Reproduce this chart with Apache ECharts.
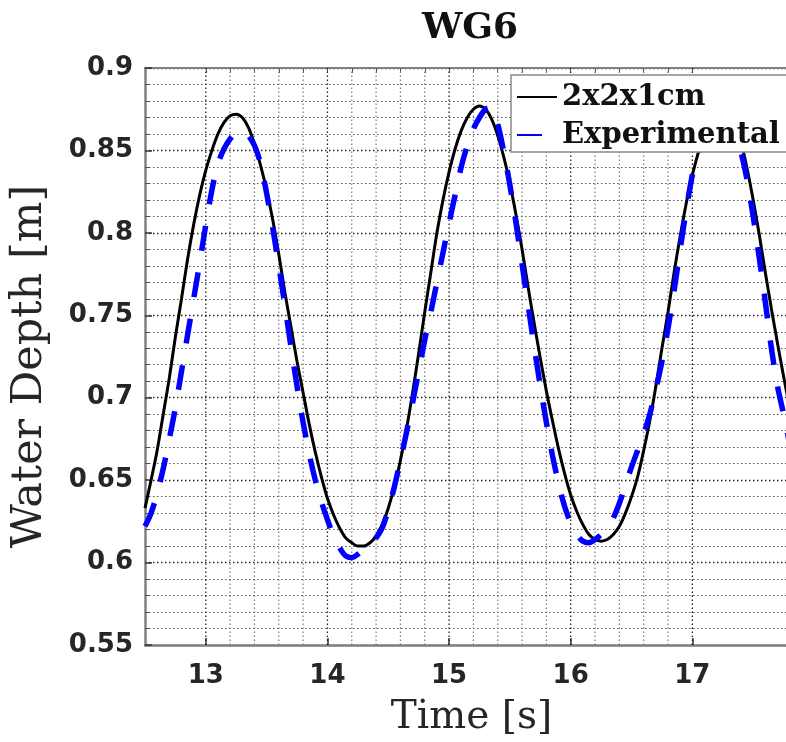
<!DOCTYPE html>
<html>
<head>
<meta charset="utf-8">
<script src="https://cdn.jsdelivr.net/npm/echarts@6/dist/echarts.min.js"></script>
<style>
  html, body { margin: 0; padding: 0; background: #ffffff; }
  #chart { width: 786px; height: 742px; }
</style>
</head>
<body>
<div id="chart"></div>
<script>
// Sample times [s]
const time = [
  12.50, 12.55, 12.60, 12.65, 12.70, 12.75, 12.80, 12.85, 12.90, 12.95,
  13.00, 13.05, 13.10, 13.15, 13.20, 13.25, 13.30, 13.35, 13.40, 13.45,
  13.50, 13.55, 13.60, 13.65, 13.70, 13.75, 13.80, 13.85, 13.90, 13.95,
  14.00, 14.05, 14.10, 14.15, 14.20, 14.25, 14.30, 14.35, 14.40, 14.45,
  14.50, 14.55, 14.60, 14.65, 14.70, 14.75, 14.80, 14.85, 14.90, 14.95,
  15.00, 15.05, 15.10, 15.15, 15.20, 15.25, 15.30, 15.35, 15.40, 15.45,
  15.50, 15.55, 15.60, 15.65, 15.70, 15.75, 15.80, 15.85, 15.90, 15.95,
  16.00, 16.05, 16.10, 16.15, 16.20, 16.25, 16.30, 16.35, 16.40, 16.45,
  16.50, 16.55, 16.60, 16.65, 16.70, 16.75, 16.80, 16.85, 16.90, 16.95,
  17.00, 17.05, 17.10, 17.15, 17.20, 17.25, 17.30, 17.35, 17.40, 17.45,
  17.50, 17.55, 17.60, 17.65, 17.70, 17.75, 17.80
];

// Simulated water depth, 2x2x1cm mesh [m]
const simDepth = [
  0.633, 0.650, 0.668, 0.690, 0.712, 0.737, 0.760, 0.784, 0.805, 0.823,
  0.838, 0.850, 0.860, 0.867, 0.871, 0.872, 0.870, 0.864, 0.854, 0.841,
  0.826, 0.808, 0.787, 0.764, 0.743, 0.722, 0.703, 0.684, 0.667, 0.652,
  0.639, 0.629, 0.621, 0.615, 0.612, 0.610, 0.610, 0.612, 0.616, 0.623,
  0.633, 0.646, 0.662, 0.681, 0.703, 0.727, 0.752, 0.776, 0.800, 0.820,
  0.837, 0.851, 0.862, 0.870, 0.875, 0.877, 0.875, 0.869, 0.859, 0.846,
  0.830, 0.811, 0.790, 0.767, 0.745, 0.724, 0.704, 0.686, 0.669, 0.654,
  0.641, 0.631, 0.623, 0.617, 0.614, 0.613, 0.614, 0.617, 0.622, 0.630,
  0.640, 0.652, 0.668, 0.686, 0.707, 0.730, 0.752, 0.776, 0.798, 0.818,
  0.835, 0.849, 0.861, 0.870, 0.876, 0.878, 0.875, 0.867, 0.855, 0.839,
  0.820, 0.799, 0.776, 0.754, 0.733, 0.713, 0.694
];

// Measured water depth [m]
const expDepth = [
  0.622, 0.630, 0.642, 0.657, 0.675, 0.694, 0.716, 0.738, 0.760, 0.782,
  0.805, 0.826, 0.842, 0.851, 0.857, 0.861, 0.862, 0.859, 0.853, 0.842,
  0.824, 0.803, 0.780, 0.756, 0.731, 0.707, 0.685, 0.666, 0.650, 0.637,
  0.626, 0.616, 0.609, 0.604, 0.603, 0.605, 0.608, 0.611, 0.615, 0.621,
  0.632, 0.646, 0.662, 0.679, 0.697, 0.716, 0.735, 0.752, 0.770, 0.788,
  0.806, 0.823, 0.840, 0.853, 0.863, 0.870, 0.875, 0.876, 0.866, 0.849,
  0.829, 0.806, 0.781, 0.756, 0.731, 0.707, 0.685, 0.665, 0.648, 0.634,
  0.624, 0.617, 0.613, 0.612, 0.614, 0.617, 0.621, 0.627, 0.636, 0.647,
  0.658, 0.668, 0.678, 0.690, 0.705, 0.722, 0.742, 0.765, 0.790, 0.814,
  0.835, 0.850, 0.861, 0.868, 0.871, 0.872, 0.868, 0.860, 0.849, 0.832,
  0.810, 0.785, 0.758, 0.730, 0.707, 0.690, 0.672
];

// Axis ticks
const majorTimeTicks = [13, 14, 15, 16, 17];
const minorTimeTicks = [
  13.2, 13.4, 13.6, 13.8, 14.2, 14.4, 14.6, 14.8,
  15.2, 15.4, 15.6, 15.8, 16.2, 16.4, 16.6, 16.8
];

const seriesNames = ['2x2x1cm', 'Experimental'];

const T_MIN = 12.5, T_MAX = 17.77;
const D_MIN = 0.55, D_MAX = 0.9;

const pairs = (xs, ys) => xs.map((x, i) => [x, ys[i]]);

const serif = 'DejaVu Serif';
const sans = 'DejaVu Sans';
const frameColor = '#808080';

// Vertical dotted grid lines at the given times, spanning the full depth range
function timeGridSeries(values, color, width) {
  return {
    type: 'custom',
    xAxisIndex: 0,
    yAxisIndex: 0,
    silent: true,
    z: 1,
    clip: true,
    data: values.map(v => [v, D_MIN]),
    renderItem: (params, api) => {
      const t = api.value(0);
      const p0 = api.coord([t, D_MIN]);
      const p1 = api.coord([t, D_MAX]);
      return {
        type: 'line',
        shape: { x1: p0[0], y1: p0[1], x2: p1[0], y2: p1[1] },
        style: { stroke: color, lineWidth: width, lineDash: [1.5, 2.5] }
      };
    }
  };
}

const chart = echarts.init(document.getElementById('chart'), null, { renderer: 'canvas' });

chart.setOption({
  backgroundColor: '#ffffff',
  animation: false,
  title: {
    text: 'WG6',
    left: 465,
    top: 6,
    textAlign: 'center',
    textStyle: { fontFamily: serif, fontWeight: 'bold', fontSize: 36, color: '#111111' }
  },
  grid: { left: 145, top: 68, bottom: 95, right: 0, containLabel: false },
  legend: {
    orient: 'vertical',
    left: 511,
    top: 75,
    z: 10,
    padding: [6, 30, 1, 5],
    itemGap: 6,
    itemWidth: 40,
    itemHeight: 6,
    backgroundColor: '#ffffff',
    borderColor: '#8a8a8a',
    borderWidth: 1.5,
    borderRadius: 0,
    itemStyle: { opacity: 0 },
    data: seriesNames,
    textStyle: { fontFamily: serif, fontWeight: 'bold', fontSize: 29, color: '#111111', lineHeight: 32 }
  },
  xAxis: [
    {
      type: 'value',
      min: T_MIN,
      max: T_MAX,
      name: 'Time [s]',
      nameLocation: 'middle',
      nameGap: 53,
      nameTextStyle: { fontFamily: serif, fontSize: 39, color: '#262626', padding: [0, 0, 0, 12] },
      axisLine: { show: true, onZero: false, lineStyle: { color: frameColor, width: 2.5 } },
      axisTick: { show: true, inside: true, length: 7, customValues: majorTimeTicks,
                  lineStyle: { color: '#333333', width: 1.5 } },
      axisLabel: { show: true, margin: 18, customValues: majorTimeTicks,
                   fontFamily: sans, fontWeight: 'bold', fontSize: 26, color: '#262626' },
      splitLine: { show: false }
    },
    {
      type: 'value',
      min: T_MIN,
      max: T_MAX,
      position: 'top',
      axisLine: { show: true, onZero: false, lineStyle: { color: frameColor, width: 2 } },
      axisTick: { show: true, inside: true, length: 5, customValues: minorTimeTicks.concat(majorTimeTicks),
                  lineStyle: { color: '#555555', width: 1 } },
      axisLabel: { show: false },
      splitLine: { show: false }
    }
  ],
  yAxis: {
    type: 'value',
    min: D_MIN,
    max: D_MAX,
    interval: 0.05,
    name: 'Water Depth [m]',
    nameLocation: 'middle',
    nameGap: 94,
    nameTextStyle: { fontFamily: serif, fontSize: 43, color: '#262626', padding: [0, 20, 0, 0] },
    axisLine: { show: true, onZero: false, lineStyle: { color: frameColor, width: 2.5 } },
    axisTick: { show: true, inside: true, length: 7, lineStyle: { color: '#333333', width: 1.5 } },
    minorTick: { show: true, splitNumber: 5, length: 4, lineStyle: { color: '#555555' } },
    axisLabel: { margin: 12, fontFamily: sans, fontWeight: 'bold', fontSize: 26, color: '#262626' },
    splitLine: { show: true, lineStyle: { color: '#222222', width: 1.3, type: [1.5, 2.5] } },
    minorSplitLine: { show: true, lineStyle: { color: '#555555', width: 1.1, type: [1.5, 2.5] } }
  },
  series: [
    timeGridSeries(minorTimeTicks, '#7a7a7a', 1.2),
    timeGridSeries(majorTimeTicks, '#222222', 1.3),
    {
      name: seriesNames[0],
      type: 'line',
      xAxisIndex: 0,
      data: pairs(time, simDepth),
      smooth: 0.3,
      symbol: 'none',
      showSymbol: false,
      clip: true,
      z: 2,
      lineStyle: { color: '#000000', width: 3 },
      itemStyle: { color: '#000000' }
    },
    {
      name: seriesNames[1],
      type: 'line',
      xAxisIndex: 0,
      data: pairs(time, expDepth),
      smooth: 0.3,
      symbol: 'none',
      showSymbol: false,
      clip: true,
      z: 2,
      lineStyle: { color: '#0000ff', width: 5.5, type: [25, 22], cap: 'butt' },
      itemStyle: { color: '#0000ff' }
    }
  ]
});
</script>
</body>
</html>
